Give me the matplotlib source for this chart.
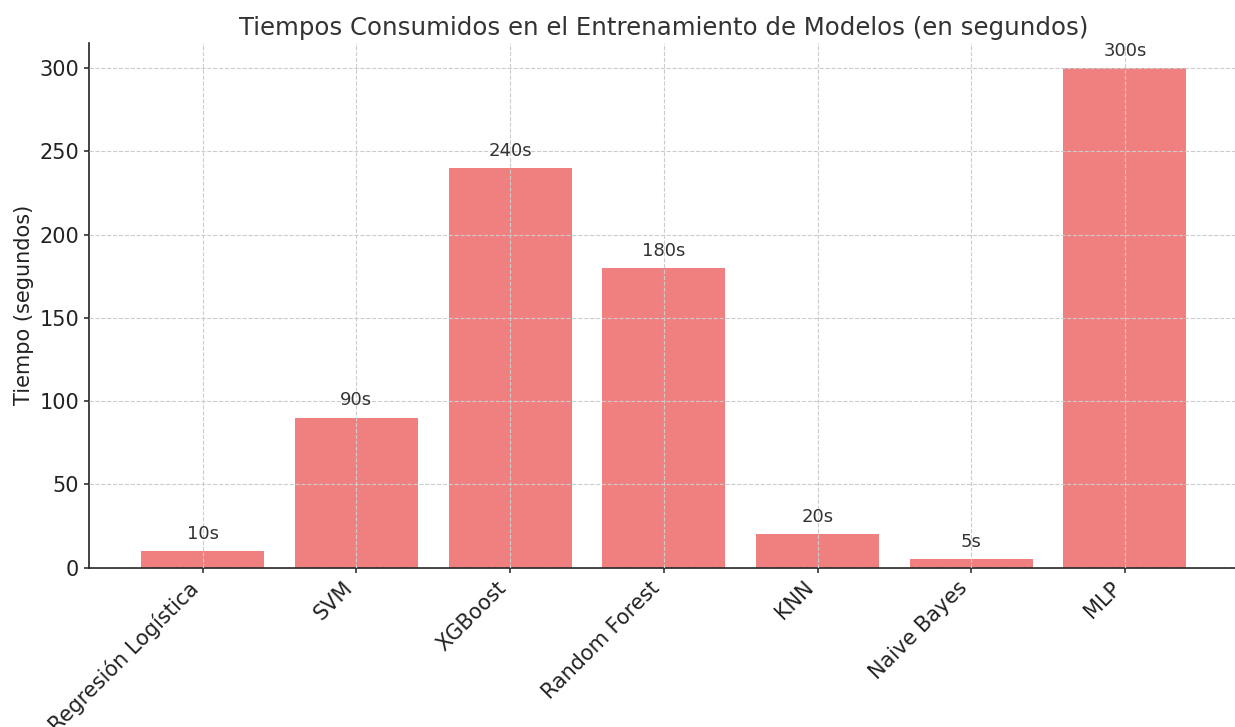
import numpy as np
import matplotlib.pyplot as plt

modelos = ['Regresión Logística', 'SVM', 'XGBoost', 'Random Forest', 'KNN', 'Naive Bayes', 'MLP']
tiempos = [10, 90, 240, 180, 20, 5, 300]

fig, ax = plt.subplots(figsize=(12.35, 7.27), dpi=100)
fig.subplots_adjust(left=0.072, right=1.003, bottom=0.219, top=0.941)

bars = ax.bar(modelos, tiempos, color='lightcoral', zorder=1)
ax.grid(True, linestyle='--', color='#cccccc', linewidth=0.8, zorder=3)
ax.set_axisbelow(False)

for b, t in zip(bars, tiempos):
    ax.text(b.get_x() + b.get_width() / 2, t + 5, f'{t}s', ha='center', va='bottom',
            fontsize=13, color='#333333')

ax.set_title('Tiempos Consumidos en el Entrenamiento de Modelos (en segundos)',
             fontsize=17.6, color='#333333')
ax.set_ylabel('Tiempo (segundos)', fontsize=15, color='#222222')
ax.set_ylim(0, 315)
ax.tick_params(axis='both', labelsize=15, colors='#222222', width=1.1)
plt.setp(ax.get_xticklabels(), rotation=45, ha='right', rotation_mode='default')
ax.spines['top'].set_visible(False)
ax.spines['right'].set_visible(False)
for s in ('left', 'bottom'):
    ax.spines[s].set_color('#222222')
    ax.spines[s].set_linewidth(1.2)

fig.savefig('out.png')
